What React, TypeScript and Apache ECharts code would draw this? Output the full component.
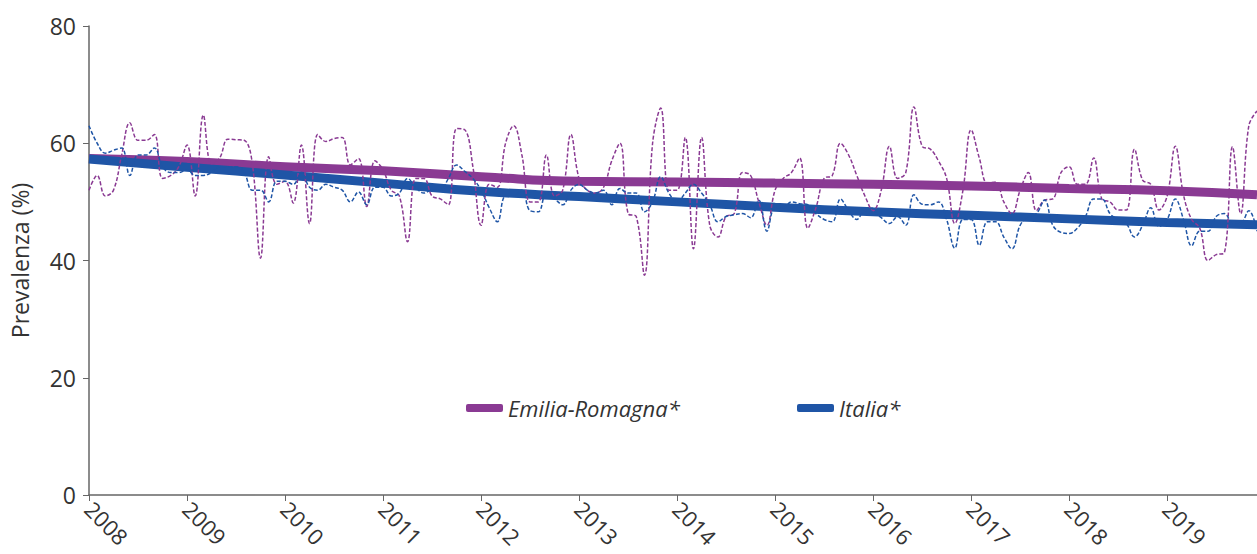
import React, { useEffect, useRef } from "react";
import * as echarts from "echarts";

const years = ["2008","2009","2010","2011","2012","2013","2014","2015","2016","2017","2018","2019"];
const yTicks = [0, 20, 40, 60, 80];

const erMonthly = [
  52, 54.5, 51, 52, 58, 63.5, 60.5, 60.5, 61.5, 54, 54.5, 56,
  59.7, 51, 64.8, 56.5, 57.5, 60.7, 60.6, 60.5, 56.5, 40.4, 57.7, 53,
  53.5, 49.8, 59.7, 46.3, 61.5, 60.3, 60.8, 61, 56.3, 57.4, 49.2, 57,
  55.5, 52, 51, 43.2, 54, 54, 51, 50.5, 49.5, 62.5, 62.3, 56,
  46, 53, 52.5, 60, 63, 58, 50, 50, 58, 51, 52, 61.5,
  54, 52, 51.5, 52.5, 57, 60, 48, 47.5, 37.5, 60, 66, 52,
  52, 61, 42, 61, 46, 44, 47.5, 48, 55, 54.5, 50, 46,
  52, 54, 55, 57.5, 45.5, 49, 54, 54.5, 60, 58, 54.5, 51,
  48.5, 52, 59.5, 54, 55, 66.2, 59.5, 59, 57, 54, 46.3, 52,
  62.3, 57.5, 53.2, 53.4, 50, 48, 52, 55, 48.5, 50.3, 50.5, 55,
  56, 53, 53, 57.5, 50.5, 50, 48.6, 48.6, 59, 53.7, 53, 48.6,
  51, 59.5, 51.2, 47, 45.5, 40, 41, 41.3, 59.4, 48, 63, 65.5,
];

const itMonthly = [
  63, 60, 58.3, 58.8, 59.2, 54.5, 58, 58, 59.2, 56, 55, 55,
  55.5, 54.5, 54.5, 55, 56, 56, 56, 55, 52, 52, 50, 53.5,
  53.5, 53, 55, 52.5, 52, 53, 52.5, 52, 50, 51.7, 49.5, 52.5,
  52.5, 51, 51.5, 54, 52.5, 51.5, 52, 52, 54, 56.3, 55.2, 54,
  52, 49, 46.6, 51, 51, 52, 48.5, 48.3, 51.5, 50.5, 49.5, 52,
  53, 52, 51.5, 52, 49.5, 52.3, 51.5, 51.5, 48.3, 50, 54.3, 51.5,
  50, 51.5, 53, 51.5, 49.5, 46.6, 47.5, 47.8, 48, 47.3, 50.3, 45,
  49, 49, 50, 49.7, 49.5, 48, 47, 46.6, 50.5, 48.5, 47, 48.5,
  48.3, 47.3, 46.3, 47.5, 46, 51.2, 49.6, 49.5, 50, 47, 42.1, 47,
  47, 42.6, 46.6, 46.6, 44, 42, 46, 47.5, 48, 50.3, 46, 44.8,
  44.6, 45.5, 47.5, 50.5, 50.5, 48, 47, 46.3, 44, 46, 49, 45.8,
  47, 50.5, 47, 42.5, 45, 45, 47.5, 48, 46.5, 46.5, 48.5, 45,
];

const trendIdx = [0, 12, 24, 36, 48, 60, 72, 84, 96, 108, 120, 132, 143];
const erTrend = [57.4, 56.9, 56, 55.3, 54.3, 53.5, 53.4, 53.2, 53, 52.7, 52.3, 51.9, 51.2];
const itTrend = [57.3, 55.9, 54.6, 53.2, 51.8, 50.9, 50, 49.1, 48.3, 47.7, 47.1, 46.5, 46.1];

const PURPLE = "#8a3a93";
const BLUE = "#1f55a6";
const FONT = "Open Sans";

export default function App() {
  const ref = useRef<HTMLDivElement>(null);
  useEffect(() => {
    if (!ref.current) return;
    const chart = echarts.init(ref.current, undefined, { renderer: "svg" });
    const categories: string[] = [];
    years.forEach((y) => {
      for (let m = 1; m <= 12; m++) categories.push(y + "-" + (m < 10 ? "0" + m : m));
    });
    const isYear = (i: number) => i % 12 === 0;
    const legendBase = {
      top: 392,
      itemWidth: 37,
      itemHeight: 8,
      icon: "roundRect",
      textStyle: { fontSize: 22, fontStyle: "italic", color: "#333", fontFamily: FONT },
    };
    chart.setOption({
      animation: false,
      textStyle: { fontFamily: FONT },
      grid: { left: 89, right: 0, top: 26, bottom: 59, containLabel: false },
      legend: [
        { ...legendBase, left: 461, data: [{ name: "Emilia-Romagna*", itemStyle: { color: PURPLE } }] },
        { ...legendBase, left: 792, data: [{ name: "Italia*", itemStyle: { color: BLUE } }] },
      ],
      xAxis: {
        type: "category",
        data: categories,
        boundaryGap: false,
        axisLine: { lineStyle: { color: "#666", width: 1.5 } },
        axisTick: { show: true, interval: (i: number) => isYear(i), length: 6, lineStyle: { color: "#666" } },
        axisLabel: {
          interval: (i: number) => isYear(i),
          formatter: (v: string) => v.slice(0, 4),
          rotate: -45,
          fontSize: 22,
          color: "#333",
          margin: 10,
          fontFamily: FONT,
        },
        splitLine: { show: false },
      },
      yAxis: {
        type: "value",
        min: yTicks[0],
        max: yTicks[yTicks.length - 1],
        interval: 20,
        name: "Prevalenza (%)",
        nameLocation: "middle",
        nameGap: 58,
        nameTextStyle: { fontSize: 23, color: "#333", fontFamily: FONT },
        axisLine: { show: true, lineStyle: { color: "#666", width: 1.5 } },
        axisTick: { show: true, length: 6, lineStyle: { color: "#666" } },
        axisLabel: { fontSize: 23, color: "#333", margin: 13, fontFamily: FONT },
        splitLine: { show: false },
      },
      series: [
        {
          name: "Emilia-Romagna*",
          type: "line",
          data: trendIdx.map((i, k) => [i, erTrend[k]]),
          smooth: true,
          showSymbol: false,
          lineStyle: { color: PURPLE, width: 9 },
          itemStyle: { color: PURPLE },
          z: 2,
        },
        {
          name: "Italia*",
          type: "line",
          data: trendIdx.map((i, k) => [i, itTrend[k]]),
          smooth: true,
          showSymbol: false,
          lineStyle: { color: BLUE, width: 9 },
          itemStyle: { color: BLUE },
          z: 3,
        },
        {
          name: "Emilia-Romagna mensile",
          type: "line",
          data: erMonthly,
          smooth: 0.4,
          showSymbol: false,
          lineStyle: { color: PURPLE, width: 1.5, type: [4, 2] },
          z: 4,
        },
        {
          name: "Italia mensile",
          type: "line",
          data: itMonthly,
          smooth: 0.4,
          showSymbol: false,
          lineStyle: { color: BLUE, width: 1.5, type: [4, 2] },
          z: 4,
        },
      ],
    });
    return () => chart.dispose();
  }, []);
  return (
    <div
      ref={ref}
      style={{ position: "fixed", left: 0, top: 0, width: 1257, height: 554, background: "#fff" }}
    />
  );
}
